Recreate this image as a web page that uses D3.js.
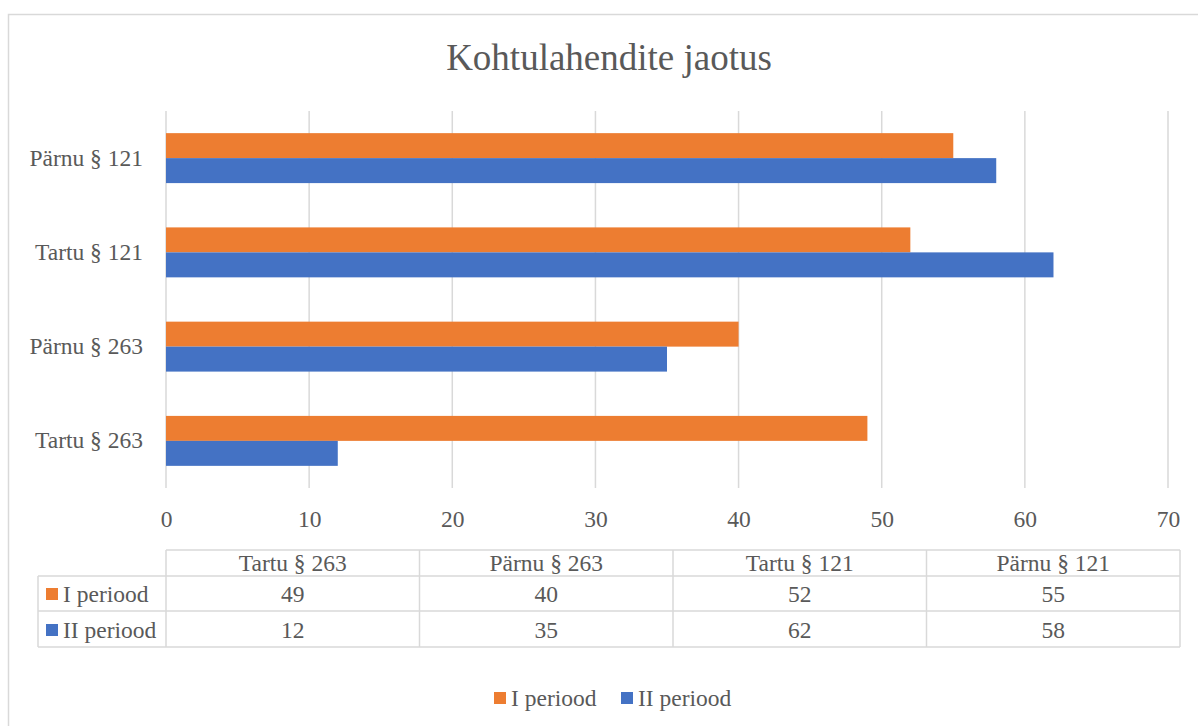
<!DOCTYPE html>
<html lang="et">
<head>
    <meta charset="UTF-8">
    <title>Kohtulahendite jaotus</title>
    <script src="https://d3js.org/d3.v7.min.js"></script>
    <style>
        body {
            margin: 0;
            padding: 0;
            background: #fff;
        }
        svg text {
            font-family: "Liberation Serif", "Times New Roman", serif;
            fill: #595959;
        }
    </style>
</head>
<body>
    <div id="chart"></div>

    <script>
        // data
        const categories = ["Tartu § 263", "Pärnu § 263", "Tartu § 121", "Pärnu § 121"];
        const seriesNames = ["I periood", "II periood"];
        const period1 = [49, 40, 52, 55];
        const period2 = [12, 35, 62, 58];
        const xTicks = [0, 10, 20, 30, 40, 50, 60, 70];
        const colors = ["#ED7D31", "#4472C4"];

        const width = 1198, height = 726;
        const gridColor = "#d9d9d9";
        const fs = "23.5px";

        const svg = d3.select("#chart")
            .append("svg")
            .attr("width", width)
            .attr("height", height);

        // outer chart frame
        svg.append("rect")
            .attr("x", 8.5)
            .attr("y", 14.5)
            .attr("width", 1200)
            .attr("height", 730)
            .attr("fill", "none")
            .attr("stroke", gridColor)
            .attr("stroke-width", 1.5);

        // title
        svg.append("text")
            .attr("x", 609)
            .attr("y", 70)
            .attr("text-anchor", "middle")
            .style("font-size", "37px")
            .text("Kohtulahendite jaotus");

        const plot = { left: 166, right: 1168, top: 111, bottom: 488 };

        const x = d3.scaleLinear()
            .domain([0, 70])
            .range([plot.left, plot.right]);

        // top category first
        const y = d3.scaleBand()
            .domain(categories.slice().reverse())
            .range([plot.top, plot.bottom])
            .paddingInner(0.47)
            .paddingOuter(0.235);

        const ySub = d3.scaleBand()
            .domain(seriesNames)
            .range([0, y.bandwidth()]);

        // gridlines
        svg.append("g")
            .selectAll("line")
            .data(xTicks)
            .join("line")
            .attr("x1", d => x(d))
            .attr("x2", d => x(d))
            .attr("y1", plot.top)
            .attr("y2", plot.bottom)
            .attr("stroke", gridColor)
            .attr("stroke-width", 1.5);

        // x axis labels
        const xAxis = svg.append("g")
            .attr("transform", `translate(0,${plot.bottom})`)
            .call(d3.axisBottom(x).tickValues(xTicks).tickSize(0).tickPadding(22));
        xAxis.select(".domain").remove();
        xAxis.selectAll("text")
            .style("font-size", fs)
            .attr("fill", "#595959");

        // y axis labels
        const yAxis = svg.append("g")
            .attr("transform", `translate(${plot.left},0)`)
            .call(d3.axisLeft(y).tickSize(0).tickPadding(23));
        yAxis.select(".domain").remove();
        yAxis.selectAll("text")
            .style("font-size", fs)
            .attr("fill", "#595959");

        // bars
        const rows = categories.map((c, i) => ({ cat: c, values: [period1[i], period2[i]] }));

        const groups = svg.append("g")
            .selectAll("g")
            .data(rows)
            .join("g")
            .attr("transform", d => `translate(0,${y(d.cat)})`);

        groups.selectAll("rect")
            .data(d => d.values.map((v, j) => ({ name: seriesNames[j], value: v, idx: j })))
            .join("rect")
            .attr("x", x(0))
            .attr("y", d => ySub(d.name))
            .attr("width", d => x(d.value) - x(0))
            .attr("height", ySub.bandwidth())
            .attr("fill", d => colors[d.idx]);

        // data table
        const tbl = { legLeft: 38, left: 166, right: 1180, headTop: 550, rowTops: [576, 611], bottom: 647 };
        const colW = (tbl.right - tbl.left) / categories.length;
        const table = svg.append("g")
            .attr("stroke", gridColor)
            .attr("stroke-width", 1.5);

        table.append("line").attr("x1", tbl.left).attr("x2", tbl.right).attr("y1", tbl.headTop).attr("y2", tbl.headTop);
        tbl.rowTops.concat([tbl.bottom]).forEach(yy => {
            table.append("line").attr("x1", tbl.legLeft).attr("x2", tbl.right).attr("y1", yy).attr("y2", yy);
        });
        table.append("line").attr("x1", tbl.legLeft).attr("x2", tbl.legLeft).attr("y1", tbl.rowTops[0]).attr("y2", tbl.bottom);
        d3.range(categories.length + 1).forEach(i => {
            const xx = tbl.left + i * colW;
            table.append("line").attr("x1", xx).attr("x2", xx).attr("y1", tbl.headTop).attr("y2", tbl.bottom);
        });

        // header
        svg.append("g")
            .selectAll("text")
            .data(categories)
            .join("text")
            .attr("x", (d, i) => tbl.left + colW * (i + 0.5))
            .attr("y", 571)
            .attr("text-anchor", "middle")
            .style("font-size", fs)
            .text(d => d);

        // value rows
        const tableRows = [period1, period2];
        const rowBase = [602, 638];
        tableRows.forEach((vals, r) => {
            svg.append("rect")
                .attr("x", 46)
                .attr("y", rowBase[r] - 14)
                .attr("width", 12)
                .attr("height", 12)
                .attr("fill", colors[r]);
            svg.append("text")
                .attr("x", 63)
                .attr("y", rowBase[r])
                .style("font-size", fs)
                .text(seriesNames[r]);
            svg.append("g")
                .selectAll("text")
                .data(vals)
                .join("text")
                .attr("x", (d, i) => tbl.left + colW * (i + 0.5))
                .attr("y", rowBase[r])
                .attr("text-anchor", "middle")
                .style("font-size", fs)
                .text(d => d);
        });

        // legend
        const legendX = [494, 621];
        const legend = svg.append("g")
            .selectAll("g")
            .data(seriesNames)
            .join("g")
            .attr("transform", (d, i) => `translate(${legendX[i]},692)`);
        legend.append("rect")
            .attr("width", 12)
            .attr("height", 12)
            .attr("fill", (d, i) => colors[i]);
        legend.append("text")
            .attr("x", 17)
            .attr("y", 14)
            .style("font-size", fs)
            .text(d => d);
    </script>
</body>
</html>
